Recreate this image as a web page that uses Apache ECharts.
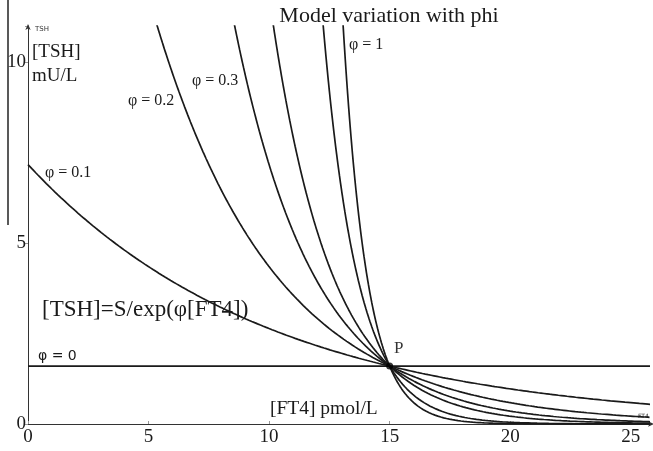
<!DOCTYPE html>
<html>
<head>
<meta charset="utf-8">
<script src="https://cdn.jsdelivr.net/npm/echarts@6/dist/echarts.min.js"></script>
<style>
  html, body { margin: 0; padding: 0; background: #fff; }
  #chart { width: 653px; height: 451px; }
</style>
</head>
<body>
<div id="chart"></div>
<script>
// Model parameters: slope values phi and the common point P = [FT4, TSH]
const phiValues = [0, 0.1, 0.2, 0.3, 0.4, 0.7, 1];
const pointP = [15, 1.6];
// Axis ranges and ticks
const xTicks = [0, 5, 10, 15, 20, 25];
const yTicks = [0, 5, 10];
const xMax = 25.8;
const yMax = 11;
const sampleStep = 0.02;

// [TSH] = S / exp(phi [FT4]), with S chosen so each curve passes through P
function curve(phi) {
  const S = pointP[1] * Math.exp(phi * pointP[0]);
  const pts = [];
  const n = Math.round(xMax / sampleStep);
  for (let i = 0; i <= n; i++) {
    const x = i * sampleStep;
    pts.push([x, S / Math.exp(phi * x)]);
  }
  return pts;
}

const serif = '"Liberation Serif", "DejaVu Serif", serif';
const ink = '#1a1a1a';

const chart = echarts.init(document.getElementById('chart'), null, { renderer: 'canvas' });

const series = phiValues.map(phi => ({
  type: 'line',
  name: 'phi ' + phi,
  data: curve(phi),
  showSymbol: false,
  clip: true,
  lineStyle: { color: ink, width: 1.7 },
  silent: true,
  z: 3
}));

series.push({
  type: 'scatter',
  data: [pointP],
  symbolSize: 7,
  itemStyle: { color: '#000' },
  label: {
    show: true,
    formatter: 'P',
    position: 'top',
    offset: [9, -1],
    fontFamily: serif,
    fontSize: 17,
    color: '#000'
  },
  z: 5
});

chart.setOption({
  animation: false,
  backgroundColor: '#fff',
  title: {
    text: 'Model variation with phi',
    left: 384,
    top: 0,
    textAlign: 'center',
    textStyle: { fontFamily: serif, fontSize: 22, fontWeight: 'normal', color: ink }
  },
  grid: { left: 28, right: 3, top: 26, bottom: 27, containLabel: false },
  xAxis: {
    type: 'value',
    min: 0,
    max: xMax,
    interval: 5,
    axisLine: {
      show: true, onZero: false,
      lineStyle: { color: '#333', width: 1 },
      symbol: ['none', 'arrow'], symbolSize: [4, 6], symbolOffset: [0, 4]
    },
    axisTick: { show: true, inside: true, length: 3, lineStyle: { color: '#999' } },
    axisLabel: {
      fontFamily: serif, fontSize: 19, color: ink, margin: 4,
      showMaxLabel: false,
      formatter: v => (xTicks.indexOf(v) >= 0 ? String(v) : '')
    },
    splitLine: { show: false }
  },
  yAxis: {
    type: 'value',
    min: 0,
    max: yMax,
    interval: 5,
    axisLine: {
      show: true, onZero: false,
      lineStyle: { color: '#333', width: 1 },
      symbol: ['none', 'arrow'], symbolSize: [4, 6], symbolOffset: [0, 2]
    },
    axisTick: { show: true, length: 3, lineStyle: { color: '#999' } },
    axisLabel: {
      fontFamily: serif, fontSize: 19, color: ink, margin: 2,
      formatter: v => (yTicks.indexOf(v) >= 0 ? String(v) : '')
    },
    splitLine: { show: false }
  },
  graphic: [
    // frame edge on the far left
    { type: 'line', shape: { x1: 8, y1: 0, x2: 8, y2: 225 }, style: { stroke: '#222', lineWidth: 1.5 }, silent: true },
    { type: 'text', left: 35, top: 26, style: { text: 'TSH', font: '7px "DejaVu Sans", sans-serif', fill: '#333' } },
    { type: 'text', left: 638, top: 413, style: { text: 'FT4', font: '6px "DejaVu Sans", sans-serif', fill: '#333' } },
    { type: 'text', left: 32, top: 40, style: { text: '[TSH]\nmU/L', font: '19px ' + serif, fill: ink, lineHeight: 24 } },
    { type: 'text', left: 45, top: 165, style: { text: 'φ = 0.1', font: '16px ' + serif, fill: ink } },
    { type: 'text', left: 128, top: 93, style: { text: 'φ = 0.2', font: '16px ' + serif, fill: ink } },
    { type: 'text', left: 192, top: 73, style: { text: 'φ = 0.3', font: '16px ' + serif, fill: ink } },
    { type: 'text', left: 349, top: 37, style: { text: 'φ = 1', font: '16px ' + serif, fill: ink } },
    { type: 'text', left: 38, top: 349, style: { text: 'φ = 0', font: '14px "DejaVu Sans", sans-serif', fill: ink } },
    { type: 'text', left: 42, top: 298, style: { text: '[TSH]=S/exp(φ[FT4])', font: '23px ' + serif, fill: ink } },
    { type: 'text', left: 270, top: 399, style: { text: '[FT4] pmol/L', font: '19.5px ' + serif, fill: ink } }
  ],
  series: series
});
</script>
</body>
</html>
